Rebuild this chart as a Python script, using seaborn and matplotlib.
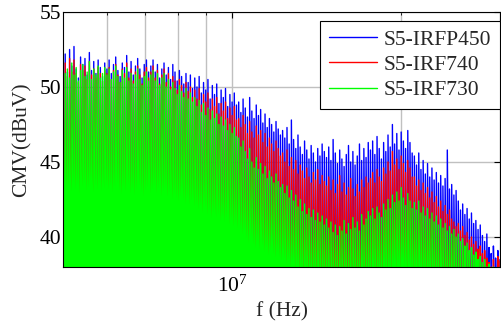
import numpy as np
import pandas as pd
import seaborn as sns
from matplotlib import pyplot as plt
from matplotlib import ticker

# spectrum peaks (dBuV), 200 log-spaced bins from 5 MHz to 30 MHz
freq_min, freq_max, n_bins = 5e6, 3e7, 200
floor_dbuv = 30.0  # level between the spikes, below the visible range

irfp450 = [
    51.6, 52.2, 51.0, 52.5, 51.4, 52.7, 51.2, 50.6, 52.0, 51.5, 51.9, 50.8, 52.3, 51.1, 51.7, 50.9, 51.8, 51.3, 50.7, 51.6,
    51.2, 51.8, 50.9, 51.5, 52.0, 51.1, 50.7, 51.6, 51.3, 52.1, 51.0, 51.7, 50.8, 51.4, 51.9, 51.2, 50.6, 51.5, 51.8, 51.0,
    51.4, 51.8, 51.0, 51.5, 50.6, 51.2, 51.6, 50.8, 51.3, 50.5, 51.5, 51.0, 50.4, 51.1, 50.7, 50.2, 50.9, 50.3, 50.8, 49.9,
    50.6, 50.0, 50.7, 49.6, 50.3, 49.8, 50.5, 49.2, 50.1, 49.5, 50.2, 48.9, 49.8, 49.3, 49.9, 48.7, 49.5, 49.0, 49.6, 48.8,
    49.0, 48.3, 49.2, 48.6, 48.0, 49.3, 48.4, 47.9, 48.8, 48.1, 48.5, 47.6, 48.2, 47.3, 47.9, 47.5, 47.0, 47.7, 47.2, 46.8,
    47.1, 46.6, 47.3, 46.2, 47.8, 46.5, 45.9, 46.8, 46.0, 45.5, 46.4, 45.8, 45.2, 46.1, 45.6, 45.0, 45.9, 45.4, 46.2, 45.7,
    45.3, 46.0, 45.1, 46.5, 45.6, 44.9, 45.8, 45.2, 44.7, 45.5, 46.1, 45.0, 45.7, 44.8, 45.4, 46.2, 45.1, 45.9, 45.3, 46.3,
    45.8, 46.4, 45.5, 46.7, 45.9, 45.2, 46.3, 45.7, 46.8, 46.0, 47.5, 46.2, 46.9, 45.8, 47.0, 46.4, 45.9, 47.1, 46.3, 45.6,
    45.4, 44.8, 45.6, 44.5, 45.1, 44.2, 44.9, 44.0, 44.6, 43.8, 44.3, 43.6, 44.1, 43.4, 43.9, 45.8, 43.2, 43.5, 42.8, 43.1,
    42.4, 41.8, 42.2, 41.5, 41.9, 41.2, 41.6, 40.9, 41.1, 40.5, 40.8, 40.1, 39.7, 40.2, 39.3, 38.9, 39.4, 38.6, 39.1, 38.5,
]
irf740 = [
    51.2, 51.6, 50.7, 51.9, 51.0, 51.8, 50.9, 50.3, 51.5, 51.1, 51.4, 50.5, 51.7, 50.8, 51.2, 50.6, 51.3, 50.9, 50.4, 51.1,
    50.9, 51.3, 50.5, 51.1, 51.5, 50.8, 50.3, 51.2, 50.9, 51.6, 50.6, 51.2, 50.4, 51.0, 51.4, 50.8, 50.2, 51.0, 51.3, 50.6,
    51.0, 51.4, 50.6, 51.1, 50.2, 50.8, 51.2, 50.3, 50.9, 50.0, 50.7, 50.4, 49.8, 50.5, 50.1, 49.6, 50.3, 49.7, 50.0, 49.3,
    49.8, 49.2, 49.9, 48.8, 49.5, 49.0, 49.6, 48.5, 49.2, 48.7, 49.3, 48.2, 48.9, 48.4, 49.0, 47.9, 48.6, 48.1, 48.7, 47.8,
    47.9, 47.3, 48.1, 47.5, 46.9, 47.7, 47.0, 46.6, 47.4, 46.8, 47.1, 46.3, 46.9, 46.0, 46.6, 46.2, 45.7, 46.4, 45.9, 45.4,
    45.6, 45.0, 45.8, 44.7, 45.3, 44.5, 45.1, 44.2, 44.8, 44.4, 43.9, 44.6, 44.0, 43.6, 44.3, 43.8, 44.5, 43.5, 44.1, 43.7,
    43.4, 44.0, 43.1, 43.8, 42.9, 43.5, 44.1, 43.0, 43.6, 42.8, 43.3, 43.9, 43.2, 42.7, 43.5, 43.0, 43.8, 43.3, 44.0, 43.6,
    43.9, 44.3, 43.6, 44.5, 44.0, 43.7, 44.6, 44.2, 45.0, 44.4, 45.7, 44.8, 45.2, 44.5, 45.4, 44.9, 44.3, 45.1, 44.6, 44.0,
    44.0, 43.4, 43.8, 43.1, 43.6, 42.9, 43.3, 42.6, 43.0, 42.3, 42.7, 42.0, 42.4, 41.7, 42.1, 41.5, 41.8, 41.2, 41.0, 40.7,
    40.9, 40.4, 40.7, 40.1, 40.3, 39.8, 40.0, 39.5, 39.7, 39.2, 39.4, 38.9, 39.1, 38.6, 38.3, 38.0, 38.5, 37.8, 38.7, 38.4,
]
irf730 = [
    51.5, 50.9, 51.2, 50.6, 51.6, 50.8, 51.3, 50.4, 51.1, 51.5, 50.7, 51.0, 51.7, 50.5, 51.2, 50.8, 51.4, 50.6, 50.9, 51.3,
    50.8, 51.2, 50.5, 51.0, 51.4, 50.7, 50.3, 51.1, 50.6, 51.3, 50.4, 50.9, 50.2, 50.8, 51.2, 50.5, 50.1, 50.7, 51.0, 50.4,
    50.8, 51.1, 50.4, 50.9, 50.1, 50.6, 50.9, 50.0, 50.5, 49.8, 50.3, 49.9, 49.5, 50.1, 49.7, 49.3, 49.9, 49.2, 49.6, 49.0,
    49.3, 48.7, 49.1, 48.3, 48.9, 48.1, 48.6, 47.8, 48.4, 47.9, 48.2, 47.5, 48.0, 47.4, 47.8, 47.1, 47.5, 46.9, 47.3, 46.7,
    46.6, 46.0, 46.4, 45.7, 45.2, 45.9, 45.0, 44.6, 45.3, 44.5, 44.9, 44.2, 44.7, 43.9, 44.4, 44.0, 43.6, 44.2, 43.7, 43.3,
    43.5, 42.9, 43.4, 42.6, 43.1, 42.4, 42.8, 42.0, 42.5, 41.7, 42.2, 41.5, 41.9, 41.3, 41.8, 41.1, 41.6, 41.0, 41.4, 40.8,
    41.2, 40.6, 41.0, 40.3, 40.8, 40.1, 40.7, 40.4, 41.1, 40.2, 40.9, 40.5, 41.3, 40.6, 41.0, 40.4, 41.5, 40.8, 41.2, 41.7,
    41.4, 41.9, 41.2, 42.0, 41.6, 41.3, 42.2, 41.8, 42.5, 41.9, 42.8, 42.3, 43.0, 42.4, 43.3, 42.6, 42.1, 42.9, 42.4, 41.9,
    42.3, 41.8, 42.4, 41.6, 42.0, 41.4, 41.9, 41.2, 41.6, 41.0, 41.4, 40.8, 41.2, 40.6, 40.9, 40.4, 40.7, 40.2, 40.5, 40.0,
    40.2, 39.7, 39.9, 39.4, 39.6, 39.1, 39.3, 38.8, 39.0, 38.5, 38.7, 38.3, 38.5, 38.0, 38.2, 37.8, 38.0, 37.6, 37.8, 37.5,
]

labels = ['S5-IRFP450', 'S5-IRF740', 'S5-IRF730']
colors = ['#0000ff', '#ff0000', '#00ff00']

sns.set_style('white')
plt.rcParams['font.family'] = ['Liberation Serif', 'DejaVu Serif']
plt.rcParams['mathtext.fontset'] = 'stix'

freq = np.geomspace(freq_min, freq_max, n_bins)

# each bin is drawn as a spike: floor -> peak -> next floor
frames = []
for lab, peaks in zip(labels, [irfp450, irf740, irf730]):
    fx = np.repeat(freq, 2)
    fy = np.column_stack([np.full(n_bins, floor_dbuv), np.asarray(peaks)]).ravel()
    frames.append(pd.DataFrame({'f': fx, 'cmv': fy, 'device': lab}))
df = pd.concat(frames, ignore_index=True)

fig = plt.figure(figsize=(5.01, 3.34), dpi=100)
ax = fig.add_axes([63/501, 67/334, 437/501, 255/334])

sns.lineplot(data=df, x='f', y='cmv', hue='device', hue_order=labels, palette=colors,
             sort=False, estimator=None, linewidth=1.0, ax=ax, legend=False)

ax.set_xscale('log')
ax.set_xlim(freq_min, freq_max)
ax.set_ylim(38, 55)
ax.set_yticks([40, 45, 50, 55])
ax.xaxis.set_major_locator(ticker.FixedLocator([1e7]))
ax.xaxis.set_major_formatter(ticker.LogFormatterMathtext())
ax.xaxis.set_minor_locator(ticker.FixedLocator([6e6, 7e6, 8e6, 9e6, 2e7, 3e7]))
ax.xaxis.set_minor_formatter(ticker.NullFormatter())

ax.set_axisbelow(True)
ax.grid(True, which='both', axis='x', color='#c0c0c0', linewidth=1.0)
ax.grid(True, which='major', axis='y', color='#c0c0c0', linewidth=1.0)

ax.tick_params(axis='both', which='both', direction='in', top=True, right=True,
               labelsize=15.5, colors='black')
ax.tick_params(axis='both', which='major', length=4, width=0.8)
ax.tick_params(axis='x', which='minor', length=2, width=0.6)
ax.tick_params(axis='x', which='major', pad=6)
ax.tick_params(axis='y', which='major', pad=1)
for sp in ax.spines.values():
    sp.set_color('black')
    sp.set_linewidth(0.8)

ax.set_xlabel('f (Hz)', fontsize=15.5, labelpad=4)
ax.set_ylabel('CMV(dBuV)', fontsize=15.5, labelpad=6)

handles = [plt.Line2D([], [], color=c, linewidth=1.0) for c in colors]
leg = ax.legend(handles, labels, loc='upper right', bbox_to_anchor=(1.0, 0.965),
                fontsize=15.5, frameon=True, fancybox=False, framealpha=1.0,
                edgecolor='black', borderaxespad=0.0, borderpad=0.4,
                labelspacing=0.24, handlelength=2.25, handletextpad=0.3)
leg.get_frame().set_linewidth(0.8)

fig.savefig('out.png', dpi=100)
